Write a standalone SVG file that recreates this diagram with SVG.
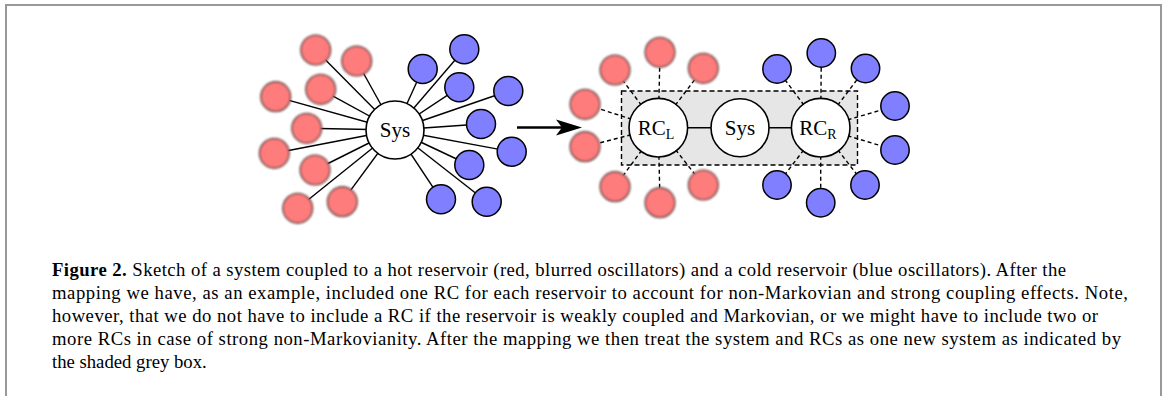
<svg xmlns="http://www.w3.org/2000/svg" width="1165" height="396" viewBox="0 0 1165 396">
<defs>
<style>
.frame{fill:none;stroke:#999;stroke-width:2}
.red{fill:#ff7c7c;stroke:#6a4a4a;stroke-width:1.6;filter:url(#blur)}
.blue{fill:#7f7fff;stroke:#000;stroke-width:1.5}
.node{fill:#fff;stroke:#000;stroke-width:1.6}
.solid{stroke:#000;stroke-width:1.4;fill:none}
.dash{stroke:#000;stroke-width:1.4;stroke-dasharray:4 3;fill:none}
.lbl{font-family:"Liberation Serif","Times New Roman",serif;font-size:21px;fill:#000}
.cap{font-family:"Liberation Serif","Times New Roman",serif;font-size:18.7px;fill:#000}
</style>
<filter id="blur" x="-50%" y="-50%" width="200%" height="200%"><feGaussianBlur stdDeviation="1.2"/></filter>
</defs>
<g id="frame">
<path class="frame" d="M6,396 V5 H1161 V396"/>
</g>
<g id="connectors">
<g id="left-lines" class="solid">
<line x1="395" y1="130" x2="315.7" y2="50"/>
<line x1="395" y1="130" x2="356.7" y2="61"/>
<line x1="395" y1="130" x2="275.7" y2="96.7"/>
<line x1="395" y1="130" x2="320.7" y2="89.3"/>
<line x1="395" y1="130" x2="306.7" y2="128.3"/>
<line x1="395" y1="130" x2="274.3" y2="153.3"/>
<line x1="395" y1="130" x2="315" y2="170"/>
<line x1="395" y1="130" x2="297.7" y2="208.3"/>
<line x1="395" y1="130" x2="342.3" y2="201.7"/>
<line x1="395" y1="130" x2="422.7" y2="69"/>
<line x1="395" y1="130" x2="464.3" y2="49.3"/>
<line x1="395" y1="130" x2="459.3" y2="87.3"/>
<line x1="395" y1="130" x2="508.3" y2="91"/>
<line x1="395" y1="130" x2="481" y2="124"/>
<line x1="395" y1="130" x2="511.7" y2="151.7"/>
<line x1="395" y1="130" x2="469.3" y2="165"/>
<line x1="395" y1="130" x2="441" y2="199.3"/>
<line x1="395" y1="130" x2="486.7" y2="201.7"/>
</g>
<g id="map-arrow">
<line x1="517" y1="127.5" x2="566" y2="127.5" stroke="#000" stroke-width="2.6"/>
<path d="M582,127.5 L556,119.5 L562,127.5 L556,135.5 Z" fill="#000"/>
</g>
</g>
<g id="grey-box">
<rect x="621.5" y="91" width="236" height="74" fill="#e6e6e6" stroke="#000" stroke-width="1.4" stroke-dasharray="5 3"/>
</g>
<g id="right-connectors">
<g class="dash">
<line x1="658.3" y1="127.7" x2="615" y2="70"/>
<line x1="658.3" y1="127.7" x2="660" y2="52.3"/>
<line x1="658.3" y1="127.7" x2="703.3" y2="68.3"/>
<line x1="658.3" y1="127.7" x2="585" y2="104.3"/>
<line x1="658.3" y1="127.7" x2="585" y2="146.7"/>
<line x1="658.3" y1="127.7" x2="615" y2="186.7"/>
<line x1="658.3" y1="127.7" x2="660" y2="202.7"/>
<line x1="658.3" y1="127.7" x2="703.3" y2="185"/>
<line x1="820.7" y1="127.7" x2="777" y2="69"/>
<line x1="820.7" y1="127.7" x2="821.3" y2="53"/>
<line x1="820.7" y1="127.7" x2="865.5" y2="68.5"/>
<line x1="820.7" y1="127.7" x2="895" y2="106"/>
<line x1="820.7" y1="127.7" x2="895" y2="150"/>
<line x1="820.7" y1="127.7" x2="777" y2="185"/>
<line x1="820.7" y1="127.7" x2="820.7" y2="202.7"/>
<line x1="820.7" y1="127.7" x2="865" y2="185"/>
</g>
<line class="solid" x1="658.3" y1="127.7" x2="820.7" y2="127.7"/>
</g>
<g id="hot-reservoir-left">
<circle class="red" cx="315.7" cy="50" r="14.8"/>
<circle class="red" cx="356.7" cy="61" r="14.8"/>
<circle class="red" cx="275.7" cy="96.7" r="14.8"/>
<circle class="red" cx="320.7" cy="89.3" r="14.8"/>
<circle class="red" cx="306.7" cy="128.3" r="14.8"/>
<circle class="red" cx="274.3" cy="153.3" r="14.8"/>
<circle class="red" cx="315" cy="170" r="14.8"/>
<circle class="red" cx="297.7" cy="208.3" r="14.8"/>
<circle class="red" cx="342.3" cy="201.7" r="14.8"/>
</g>
<g id="cold-reservoir-left">
<circle class="blue" cx="422.7" cy="69" r="14.5"/>
<circle class="blue" cx="464.3" cy="49.3" r="14.5"/>
<circle class="blue" cx="459.3" cy="87.3" r="14.5"/>
<circle class="blue" cx="508.3" cy="91" r="14.5"/>
<circle class="blue" cx="481" cy="124" r="14.5"/>
<circle class="blue" cx="511.7" cy="151.7" r="14.5"/>
<circle class="blue" cx="469.3" cy="165" r="14.5"/>
<circle class="blue" cx="441" cy="199.3" r="14.5"/>
<circle class="blue" cx="486.7" cy="201.7" r="14.5"/>
</g>
<g id="sys-left">
<circle class="node" cx="395" cy="130" r="29"/>
<text class="lbl" x="395" y="137" text-anchor="middle">Sys</text>
</g>
<g id="hot-reservoir-right">
<circle class="red" cx="615" cy="70" r="14.8"/>
<circle class="red" cx="660" cy="52.3" r="14.8"/>
<circle class="red" cx="703.3" cy="68.3" r="14.8"/>
<circle class="red" cx="585" cy="104.3" r="14.8"/>
<circle class="red" cx="585" cy="146.7" r="14.8"/>
<circle class="red" cx="615" cy="186.7" r="14.8"/>
<circle class="red" cx="660" cy="202.7" r="14.8"/>
<circle class="red" cx="703.3" cy="185" r="14.8"/>
</g>
<g id="cold-reservoir-right">
<circle class="blue" cx="777" cy="69" r="14.2"/>
<circle class="blue" cx="821.3" cy="53" r="14.2"/>
<circle class="blue" cx="865.5" cy="68.5" r="14.2"/>
<circle class="blue" cx="895" cy="106" r="14.2"/>
<circle class="blue" cx="895" cy="150" r="14.2"/>
<circle class="blue" cx="777" cy="185" r="14.2"/>
<circle class="blue" cx="820.7" cy="202.7" r="14.2"/>
<circle class="blue" cx="865" cy="185" r="14.2"/>
</g>
<g id="rc-left">
<circle class="node" cx="658.3" cy="127.7" r="29.3"/>
<text class="lbl" x="656" y="135" text-anchor="middle">RC<tspan font-size="14" dy="4">L</tspan></text>
</g>
<g id="sys-right">
<circle class="node" cx="740" cy="127.7" r="29"/>
<text class="lbl" x="740" y="135" text-anchor="middle">Sys</text>
</g>
<g id="rc-right">
<circle class="node" cx="820.7" cy="127.7" r="29.3"/>
<text class="lbl" x="818" y="135" text-anchor="middle">RC<tspan font-size="14" dy="4">R</tspan></text>
</g>
<g id="caption" class="cap">
<text x="52" y="276" textLength="1014" lengthAdjust="spacing"><tspan font-weight="bold">Figure 2.</tspan> Sketch of a system coupled to a hot reservoir (red, blurred oscillators) and a cold reservoir (blue oscillators). After the</text>
<text x="52" y="299" textLength="1076" lengthAdjust="spacing">mapping we have, as an example, included one RC for each reservoir to account for non-Markovian and strong coupling effects. Note,</text>
<text x="52" y="322" textLength="1046" lengthAdjust="spacing">however, that we do not have to include a RC if the reservoir is weakly coupled and Markovian, or we might have to include two or</text>
<text x="52" y="345" textLength="1069" lengthAdjust="spacing">more RCs in case of strong non-Markovianity. After the mapping we then treat the system and RCs as one new system as indicated by</text>
<text x="52" y="368">the shaded grey box.</text>
</g>
</svg>
